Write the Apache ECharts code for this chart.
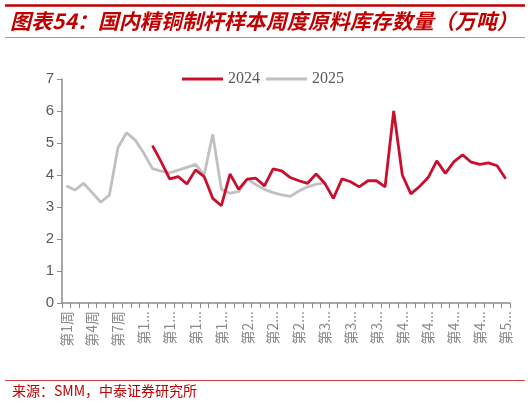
<!DOCTYPE html>
<html>
<head>
<meta charset="utf-8">
<script src="https://cdn.jsdelivr.net/npm/echarts@6/dist/echarts.min.js"></script>
<style>
html,body{margin:0;padding:0;background:#fff;}
#chart{width:530px;height:404px;}
</style>
</head>
<body>
<div id="chart"></div>
<script>
var titleText = '图表54：国内精铜制杆样本周度原料库存数量（万吨）';
var sourceText = '来源：SMM，中泰证券研究所';
var weeks = ['第1周','第2周','第3周','第4周','第5周','第6周','第7周','第8周','第9周','第10周',
  '第11周','第12周','第13周','第14周','第15周','第16周','第17周','第18周','第19周','第20周',
  '第21周','第22周','第23周','第24周','第25周','第26周','第27周','第28周','第29周','第30周',
  '第31周','第32周','第33周','第34周','第35周','第36周','第37周','第38周','第39周','第40周',
  '第41周','第42周','第43周','第44周','第45周','第46周','第47周','第48周','第49周','第50周',
  '第51周','第52周'];
var seriesNames = ['2024','2025'];
var values2024 = [null,null,null,null,null,null,null,null,null,null,
  4.92,4.42,3.88,3.95,3.72,4.16,3.95,3.27,3.04,4.03,
  3.55,3.87,3.90,3.66,4.19,4.13,3.92,3.82,3.74,4.03,
  3.74,3.27,3.88,3.79,3.63,3.82,3.82,3.63,6.00,4.00,
  3.41,3.64,3.92,4.44,4.05,4.42,4.63,4.40,4.33,4.38,
  4.29,3.88];
var values2025 = [3.66,3.53,3.74,3.45,3.15,3.37,4.86,5.32,5.09,4.68,
  4.20,4.12,4.07,4.15,4.24,4.33,4.00,5.27,3.55,3.43,
  3.48,3.88,3.70,3.55,3.45,3.38,3.33,3.50,3.63,3.71,
  3.76];
var yTicks = [0,1,2,3,4,5,6,7];

var chart = echarts.init(document.getElementById('chart'), null, {renderer:'canvas'});
chart.setOption({
  animation:false,
  backgroundColor:'#ffffff',
  title:{
    text:titleText,
    left:5, top:6,
    textStyle:{color:'#C00000', fontSize:21, fontWeight:'bold', fontStyle:'italic', fontFamily:'Noto Sans CJK SC'}
  },
  graphic:[
    {type:'line', shape:{x1:5,y1:5.5,x2:525,y2:5.5}, style:{stroke:'#C00000', lineWidth:2.5}},
    {type:'line', shape:{x1:5,y1:37.5,x2:525,y2:37.5}, style:{stroke:'#D98080', lineWidth:1}},
    {type:'line', shape:{x1:5,y1:380.5,x2:525,y2:380.5}, style:{stroke:'#D04040', lineWidth:1}},
    {type:'text', left:12, top:384, style:{text:sourceText, fill:'#C00000', font:'14px "Noto Sans CJK SC"'}}
  ],
  legend:{
    data:seriesNames,
    left:177, top:66,
    icon:'rect',
    itemWidth:41, itemHeight:3, itemGap:6,
    textStyle:{color:'#595959', fontSize:16, fontFamily:'Liberation Serif'}
  },
  grid:{left:62, right:20, top:79, bottom:101, containLabel:false},
  xAxis:{
    type:'category',
    data:weeks,
    boundaryGap:true,
    axisLine:{lineStyle:{color:'#8c8c8c', width:1.5}},
    axisTick:{show:true, interval:0, length:5, lineStyle:{color:'#8c8c8c'}},
    axisLabel:{
      interval:2, rotate:90, margin:8,
      color:'#8a8a8a', fontSize:14, fontFamily:'Noto Sans CJK SC',
      width:40, overflow:'truncate', ellipsis:'...'
    }
  },
  yAxis:{
    type:'value', min:0, max:7, interval:1,
    axisLine:{show:true, lineStyle:{color:'#8c8c8c', width:1.5}},
    axisTick:{show:true, length:5, lineStyle:{color:'#8c8c8c'}},
    splitLine:{show:false},
    axisLabel:{color:'#595959', fontSize:15, fontFamily:'Liberation Sans', margin:8,
      formatter:function(v){ return yTicks.indexOf(v) >= 0 ? String(v) : ''; }}
  },
  series:[
    {name:seriesNames[0], type:'line', data:values2024, symbol:'none', connectNulls:false,
      itemStyle:{color:'#C8102E'}, lineStyle:{color:'#C8102E', width:2.8}, z:3},
    {name:seriesNames[1], type:'line', data:values2025, symbol:'none',
      itemStyle:{color:'#C0C0C0'}, lineStyle:{color:'#C0C0C0', width:2.8}, z:2}
  ]
});
</script>
</body>
</html>
